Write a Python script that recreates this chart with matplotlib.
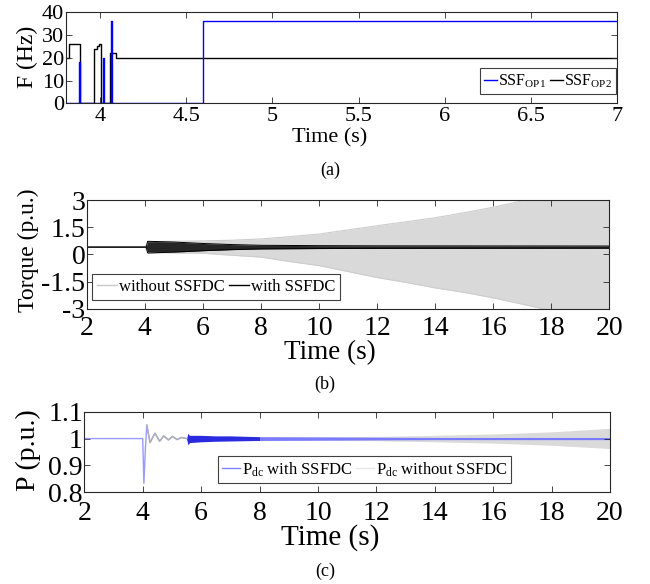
import matplotlib
matplotlib.use("Agg")
import matplotlib.pyplot as plt

plt.rcParams['font.family'] = ['Liberation Serif', 'DejaVu Serif']
plt.rcParams['mathtext.fontset'] = 'custom'
plt.rcParams['mathtext.rm'] = 'Liberation Serif'
plt.rcParams['mathtext.it'] = 'Liberation Serif:italic'

# ---------------- (a) sub-synchronous frequency estimates ----------------
t_op1 = [3.80, 3.877, 3.884, 4.018, 4.025, 4.063, 4.070, 4.595, 7.00]
f_op1 = [0, 18, 0, 20, 0, 36, 0, 36, 36]
t_op2 = [3.80, 3.821, 3.885, 3.966, 3.983, 3.993, 4.006, 4.059, 4.092, 7.00]
f_op2 = [20, 26, 0, 24, 25, 26, 0, 22, 20, 20]
a_xticks = [4, 4.5, 5, 5.5, 6, 6.5, 7]
a_xticklabels = ['4', '4.5', '5', '5.5', '6', '6.5', '7']
a_yticks = [0, 10, 20, 30, 40]

# ---------------- (b) torque envelopes ----------------
t_wo = [2.0, 4.0, 4.1, 5.0, 6.0, 7.0, 8.0, 9.0, 10.0, 11.0, 12.0, 13.0, 14.0,
        15.0, 16.0, 17.0, 18.0, 19.0, 20.0]
tq_wo_hi = [0.4, 0.4, 0.7, 0.72, 0.74, 0.78, 0.85, 0.98, 1.12, 1.35, 1.58,
            1.8, 2.02, 2.3, 2.6, 2.95, 3.3, 3.6, 3.9]
tq_wo_lo = [0.4, 0.4, 0.1, 0.08, 0.06, -0.05, -0.15, -0.4, -0.62, -0.95,
            -1.28, -1.55, -1.85, -2.1, -2.4, -2.75, -3.1, -3.4, -3.7]
t_w = [2.0, 4.05, 4.1, 5.0, 6.0, 7.0, 8.0, 10.0, 12.0, 20.0]
tq_w_hi = [0.4, 0.4, 0.72, 0.68, 0.6, 0.54, 0.5, 0.48, 0.47, 0.46]
tq_w_lo = [0.4, 0.4, 0.08, 0.12, 0.2, 0.26, 0.3, 0.32, 0.33, 0.34]
b_xticks = [2, 4, 6, 8, 10, 12, 14, 16, 18, 20]
b_yticks = [-3, -1.5, 0, 1.5, 3]
b_yticklabels = ['-3', '-1.5', '0', '1.5', '3']

# ---------------- (c) DC power ----------------
t_tr = [2.0, 4.0, 4.04, 4.09, 4.14, 4.25, 4.42, 4.58, 4.72, 4.88, 5.02, 5.18,
        5.32, 5.5]
p_tr = [1.0, 1.0, 0.833, 0.96, 1.05, 0.985, 1.02, 0.99, 1.01, 0.995, 1.008,
        0.996, 1.004, 1.0]
t_pb = [5.5, 5.55, 5.6, 6.0, 6.5, 7.0, 8.0]
p_b_hi = [1.0, 1.02, 1.012, 1.012, 1.01, 1.01, 1.007]
p_b_lo = [1.0, 0.976, 0.985, 0.988, 0.99, 0.991, 0.993]
t_pb2 = [8.0, 10.0, 12.0, 14.0, 16.0, 18.0, 20.0]
p_b2_hi = [1.007, 1.006, 1.005, 1.004, 1.004, 1.004, 1.004]
p_b2_lo = [0.993, 0.994, 0.995, 0.996, 0.996, 0.996, 0.996]
t_pg = [5.5, 8.0, 10.0, 12.0, 14.0, 16.0, 18.0, 20.0]
p_g_hi = [1.005, 1.006, 1.007, 1.008, 1.012, 1.017, 1.025, 1.038]
p_g_lo = [0.995, 0.994, 0.993, 0.992, 0.988, 0.983, 0.975, 0.963]
c_yticks = [0.8, 0.9, 1.0, 1.1]
c_yticklabels = ['0.8', '0.9', '1', '1.1']

W, H = 650, 584
fig = plt.figure(figsize=(W / 100, H / 100), dpi=100)


def px_axes(l, t, r, b):
    return fig.add_axes([l / W, 1 - b / H, (r - l) / W, (b - t) / H])


def style(ax, fs, xpad):
    ax.tick_params(direction='in', top=True, right=True, length=4,
                   width=0.6, colors='#262626', labelsize=fs, pad=1,
                   labelcolor='black')
    ax.tick_params(axis='x', pad=xpad)
    for s in ax.spines.values():
        s.set_color('#262626')
        s.set_linewidth(0.8)


def frame(leg):
    leg.get_frame().set_edgecolor('#404040')
    leg.get_frame().set_linewidth(0.8)


# ---- (a)
axa = px_axes(65.7, 12.3, 617, 103.3)
axa.plot(t_op1, f_op1, drawstyle='steps-post', color='#0000ff', lw=1.0,
         label='SSF$_{\\mathrm{OP1}}$')
axa.plot(t_op2, f_op2, drawstyle='steps-post', color='black', lw=1.0,
         label='SSF$_{\\mathrm{OP2}}$', zorder=1)
axa.set_xlim(3.8, 7)
axa.set_ylim(0, 40)
axa.set_xticks(a_xticks)
axa.set_xticklabels(a_xticklabels)
axa.set_yticks(a_yticks)
style(axa, 16, 3)
leg = axa.legend(loc='center', bbox_to_anchor=(0.875, 0.245), ncol=2,
                 fontsize=11.5, handlelength=0.8, handletextpad=0.1,
                 columnspacing=0.2, borderpad=0.25, fancybox=False,
                 framealpha=1)
frame(leg)
fig.text(27 / W, 1 - 57 / H, 'F (Hz)', rotation=90, ha='center', va='center',
         fontsize=17)
fig.text(330 / W, 1 - 138 / H, 'Time (s)', ha='center', va='center',
         fontsize=16)
fig.text(330 / W, 1 - 170 / H, '(a)', ha='center', va='center', fontsize=13)

# ---- (b)
axb = px_axes(86.7, 200, 609.3, 308.7)
axb.fill_between(t_wo, tq_wo_lo, tq_wo_hi, color='#d9d9d9', lw=0)
axb.plot(t_wo, tq_wo_hi, color='#cdcdcd', lw=0.8)
axb.plot(t_wo, tq_wo_lo, color='#cdcdcd', lw=0.8)
axb.fill_between(t_w, tq_w_lo, tq_w_hi, color='#262626', lw=0)
axb.plot(t_w, tq_w_hi, color='black', lw=0.7)
axb.plot(t_w, tq_w_lo, color='black', lw=0.7)
axb.plot([], [], color='#c8c8c8', lw=1, label='without SSFDC')
axb.plot([], [], color='black', lw=1, label='with SSFDC')
axb.set_xlim(2, 20)
axb.set_ylim(-3, 3)
axb.set_xticks(b_xticks)
axb.set_yticks(b_yticks)
axb.set_yticklabels(b_yticklabels)
style(axb, 20, 5)
h, l = axb.get_legend_handles_labels()
leg = axb.legend(h[-2:], l[-2:], loc='center', bbox_to_anchor=(0.248, 0.2),
                 ncol=2, fontsize=12, handlelength=1.2, handletextpad=0.1,
                 columnspacing=0.25, borderpad=0.3, fancybox=False,
                 framealpha=1)
frame(leg)
fig.text(28 / W, 1 - 250 / H, 'Torque (p.u.)', rotation=90, ha='center',
         va='center', fontsize=17)
fig.text(330 / W, 1 - 353 / H, 'Time (s)', ha='center', va='center',
         fontsize=19.5)
fig.text(325 / W, 1 - 384 / H, '(b)', ha='center', va='center', fontsize=13)

# ---- (c)
axc = px_axes(84.3, 411.7, 610, 492.3)
axc.fill_between(t_pg, p_g_lo, p_g_hi, color='#dadada', lw=0)
axc.fill_between(t_pb, p_b_lo, p_b_hi, color='#2a2ae0', lw=0)
axc.fill_between(t_pb2, p_b2_lo, p_b2_hi, color='#7a7aff', lw=0)
axc.plot(t_tr, p_tr, color='#9a9aff', lw=1.0)
axc.plot(t_tr[4:], p_tr[4:], color='#b0b0b0', lw=1.0)
axc.plot([], [], color='#8080ff', lw=1, label='P$_{\\mathrm{dc}}$ with SSFDC')
axc.plot([], [], color='#e6e6e6', lw=1, label='P$_{\\mathrm{dc}}$ without SSFDC')
axc.set_xlim(2, 20)
axc.set_ylim(0.8, 1.1)
axc.set_xticks(b_xticks)
axc.set_yticks(c_yticks)
axc.set_yticklabels(c_yticklabels)
style(axc, 20, 6)
h, l = axc.get_legend_handles_labels()
leg = axc.legend(h[-2:], l[-2:], loc='center', bbox_to_anchor=(0.533, 0.283),
                 ncol=2, fontsize=12, handlelength=1.1, handletextpad=0.1,
                 columnspacing=0.2, borderpad=0.25, fancybox=False,
                 framealpha=1)
frame(leg)
fig.text(28 / W, 1 - 450 / H, 'P (p.u.)', rotation=90, ha='center',
         va='center', fontsize=20)
fig.text(330 / W, 1 - 538 / H, 'Time (s)', ha='center', va='center',
         fontsize=21)
fig.text(325 / W, 1 - 571 / H, '(c)', ha='center', va='center', fontsize=13)

fig.savefig('out.png', dpi=100)
